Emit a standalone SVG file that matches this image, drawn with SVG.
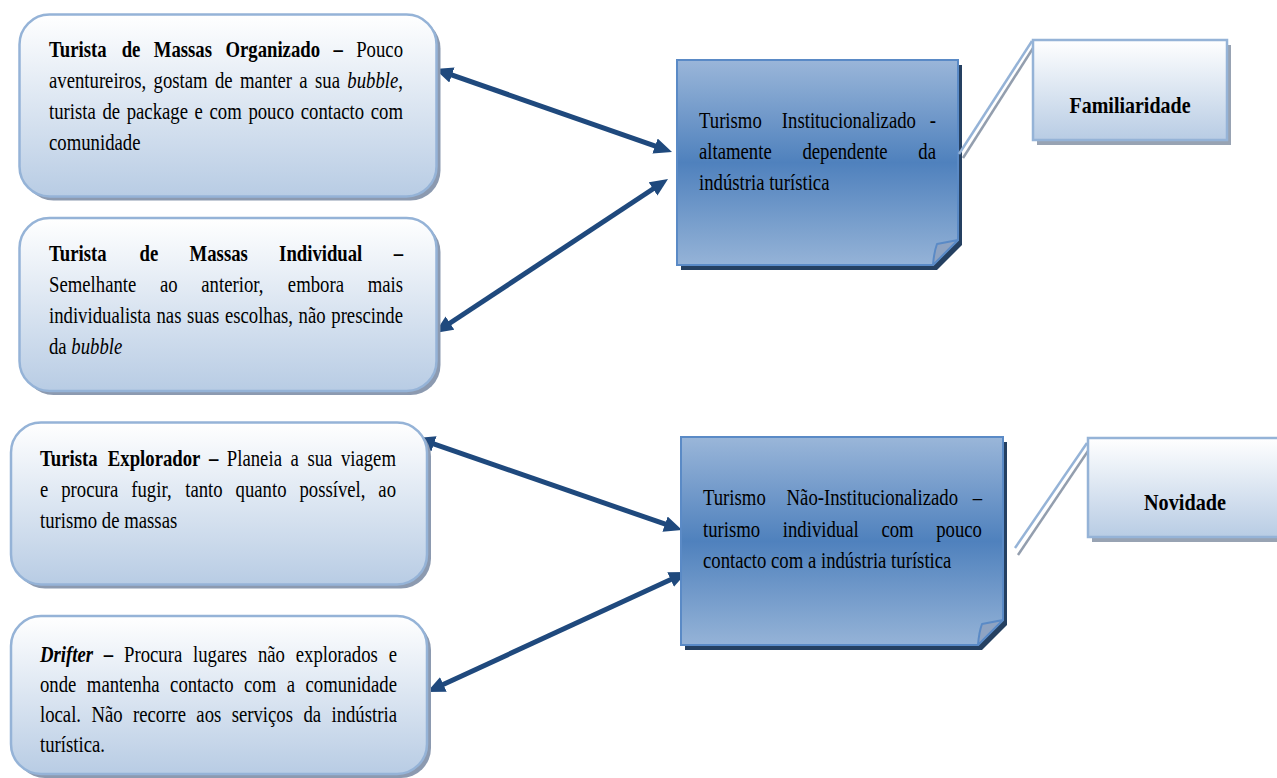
<svg xmlns="http://www.w3.org/2000/svg" width="1277" height="778" viewBox="0 0 1277 778">
<defs>
<linearGradient id="gLight" x1="0" y1="0" x2="0" y2="1">
<stop offset="0" stop-color="#ffffff"/>
<stop offset="1" stop-color="#b8cce4"/>
</linearGradient>
<linearGradient id="gBlue" x1="0" y1="0" x2="0" y2="1">
<stop offset="0" stop-color="#9ab6d9"/>
<stop offset="0.5" stop-color="#4f81bd"/>
<stop offset="1" stop-color="#95b3d7"/>
</linearGradient>
<marker id="ah" viewBox="0 0 18 16" refX="8" refY="8" markerWidth="18" markerHeight="16" markerUnits="userSpaceOnUse" orient="auto-start-reverse">
<path d="M0,0 L18,8 L0,16 Z" fill="#1f497d"/>
</marker>
</defs>
<style>
.rb{fill:url(#gLight);stroke:#95b3d7;stroke-width:2.5}
.rs{fill:#8c9ab0}
.bb{fill:url(#gBlue);stroke:#5a8ac6;stroke-width:2}
.bs{fill:#254061}
.fold{fill:#8ea3c2;stroke:#5a8ac6;stroke-width:2;stroke-linejoin:round}
.cs{fill:#98a3b3}
.cl{stroke:#95b3d7;stroke-width:2.5;fill:none}
.cls{stroke:#939eae;stroke-width:2.5;fill:none}
.t{font-family:"Liberation Serif","Times New Roman",serif;font-size:24px;fill:#000}
.b{font-weight:bold}
.i{font-style:italic}
.m{text-anchor:middle}
.ar{stroke:#1f497d;stroke-width:5;fill:none;marker-start:url(#ah);marker-end:url(#ah)}
</style>
<rect width="1277" height="778" fill="#ffffff"/>

<g id="connectors">
<line class="ar" x1="444.4" y1="72.3" x2="662.6" y2="148.7"/>
<line class="ar" x1="443.3" y1="327.5" x2="659.7" y2="184.5"/>
<line class="ar" x1="426.4" y1="441.3" x2="672.6" y2="526.7"/>
<line class="ar" x1="436.1" y1="687.8" x2="677.9" y2="576.2"/>
</g>

<g id="node-organizado">
<rect class="rs" x="23.5" y="18.5" width="417" height="182" rx="30"/>
<rect class="rb" x="19.5" y="14.5" width="417" height="182" rx="30"/>
<text class="t" transform="scale(0.78 1)" y="57"><tspan class="b" x="62.82">Turista</tspan> <tspan class="b" x="156">de</tspan> <tspan class="b" x="197.17">Massas</tspan> <tspan class="b" x="289">Organizado</tspan> <tspan class="b" x="427.51">–</tspan> <tspan x="456.68">Pouco</tspan></text>
<text class="t" transform="scale(0.78 1)" y="88"><tspan x="62.82">aventureiros,</tspan> <tspan x="196.88">gostam</tspan> <tspan x="275.65">de</tspan> <tspan x="307.74">manter</tspan> <tspan x="383.82">a</tspan> <tspan x="403.91">sua</tspan> <tspan class="i" x="445.33">bubble</tspan>,</text>
<text class="t" transform="scale(0.78 1)" y="119"><tspan x="62.82">turista</tspan> <tspan x="131.29">de</tspan> <tspan x="162.42">package</tspan> <tspan x="249.51">e</tspan> <tspan x="268.64">com</tspan> <tspan x="318.44">pouco</tspan> <tspan x="385.57">contacto</tspan> <tspan x="475.35">com</tspan></text>
<text class="t" transform="scale(0.78 1)" x="62.82" y="150">comunidade</text>
</g>

<g id="node-individual">
<rect class="rs" x="23.5" y="222" width="417" height="173" rx="30"/>
<rect class="rb" x="19.5" y="218" width="417" height="173" rx="30"/>
<text class="t b" transform="scale(0.78 1)" y="261"><tspan x="62.82">Turista</tspan> <tspan x="178.94">de</tspan> <tspan x="243.05">Massas</tspan> <tspan x="357.82">Individual</tspan> <tspan x="504.66">–</tspan></text>
<text class="t" transform="scale(0.78 1)" y="292"><tspan x="62.82">Semelhante</tspan> <tspan x="205.12">ao</tspan> <tspan x="258.1">anterior,</tspan> <tspan x="369.06">embora</tspan> <tspan x="471.36">mais</tspan></text>
<text class="t" transform="scale(0.78 1)" y="323"><tspan x="62.82">individualista</tspan> <tspan x="200.63">nas</tspan> <tspan x="239.82">suas</tspan> <tspan x="288.35">escolhas,</tspan> <tspan x="382.86">não</tspan> <tspan x="424.72">prescinde</tspan></text>
<text class="t" transform="scale(0.78 1)" x="62.82" y="354">da <tspan class="i">bubble</tspan></text>
</g>

<g id="node-explorador">
<rect class="rs" x="15" y="426.5" width="416" height="162" rx="30"/>
<rect class="rb" x="11" y="422.5" width="416" height="162" rx="30"/>
<text class="t" transform="scale(0.78 1)" y="466"><tspan class="b" x="51.28">Turista</tspan> <tspan class="b" x="138.25">Explorador</tspan> <tspan class="b" x="267.89">–</tspan> <tspan x="290.85">Planeia</tspan> <tspan x="372.47">a</tspan> <tspan x="394.09">sua</tspan> <tspan x="437.04">viagem</tspan></text>
<text class="t" transform="scale(0.78 1)" y="497"><tspan x="51.28">e</tspan> <tspan x="78.47">procura</tspan> <tspan x="168.3">fugir,</tspan> <tspan x="237.49">tanto</tspan> <tspan x="302.02">quanto</tspan> <tspan x="383.88">possível,</tspan> <tspan x="485.08">ao</tspan></text>
<text class="t" transform="scale(0.78 1)" x="51.28" y="528">turismo de massas</text>
</g>

<g id="node-drifter">
<rect class="rs" x="15" y="620" width="416" height="158" rx="30"/>
<rect class="rb" x="11" y="616" width="416" height="158" rx="30"/>
<text class="t" transform="scale(0.78 1)" y="662"><tspan class="b i" x="51.28">Drifter</tspan> <tspan class="b" x="133.12">–</tspan> <tspan x="158.97">Procura</tspan> <tspan x="247.46">lugares</tspan> <tspan x="330.62">não</tspan> <tspan x="379.13">explorados</tspan> <tspan x="498.29">e</tspan></text>
<text class="t" transform="scale(0.78 1)" y="692"><tspan x="51.28">onde</tspan> <tspan x="111.36">mantenha</tspan> <tspan x="218.09">contacto</tspan> <tspan x="312.82">com</tspan> <tspan x="367.57">a</tspan> <tspan x="391.65">comunidade</tspan></text>
<text class="t" transform="scale(0.78 1)" y="722"><tspan x="51.28">local.</tspan> <tspan x="117.24">Não</tspan> <tspan x="170.52">recorre</tspan> <tspan x="251.76">aos</tspan> <tspan x="297.05">serviços</tspan> <tspan x="389">da</tspan> <tspan x="424.96">indústria</tspan></text>
<text class="t" transform="scale(0.78 1)" x="51.28" y="752">turística.</text>
</g>

<g id="node-institucionalizado">
<path class="bs" d="M681,65 H962 V245 L937,270 H681 Z"/>
<path class="bb" d="M677,60 H958 V240 L933,265 H677 Z"/>
<path class="fold" d="M933,265 Q934,252 937,244 L958,240 Z"/>
<text class="t" transform="scale(0.78 1)" y="128"><tspan x="896.15">Turismo</tspan> <tspan x="1002.36">Institucionalizado</tspan> <tspan x="1192.01">-</tspan></text>
<text class="t" transform="scale(0.78 1)" y="159"><tspan x="896.15">altamente</tspan> <tspan x="1028.76">dependente</tspan> <tspan x="1177.36">da</tspan></text>
<text class="t" transform="scale(0.78 1)" x="896.15" y="190">indústria turística</text>
</g>

<g id="node-nao-institucionalizado">
<path class="bs" d="M685,442 H1007 V625 L982,650 H685 Z"/>
<path class="bb" d="M681,437 H1003 V620 L978,645 H681 Z"/>
<path class="fold" d="M978,645 Q979,632 982,624 L1003,620 Z"/>
<text class="t" transform="scale(0.78 1)" y="505"><tspan x="901.28">Turismo</tspan> <tspan x="1008.42">Não-Institucionalizado</tspan> <tspan x="1246.98">–</tspan></text>
<text class="t" transform="scale(0.78 1)" y="537"><tspan x="901.28">turismo</tspan> <tspan x="1003.61">individual</tspan> <tspan x="1129.99">com</tspan> <tspan x="1200.31">pouco</tspan></text>
<text class="t" transform="scale(0.78 1)" x="901.28" y="568">contacto com a indústria turística</text>
</g>

<g id="node-familiaridade">
<line class="cls" x1="1035" y1="45" x2="963" y2="158"/>
<line class="cl" x1="1032" y1="41" x2="959" y2="154"/>
<rect class="cs" x="1037" y="45" width="194" height="100"/>
<rect class="rb" x="1033" y="40" width="194" height="100"/>
<text class="t b m" transform="scale(0.78 1)" x="1448.72" y="113" textLength="155.13" lengthAdjust="spacingAndGlyphs">Familiaridade</text>
</g>

<g id="node-novidade">
<line class="cls" x1="1090" y1="448" x2="1018" y2="555"/>
<line class="cl" x1="1087" y1="443" x2="1015" y2="548"/>
<rect class="cs" x="1092" y="443" width="200" height="99"/>
<rect class="rb" x="1088" y="438" width="200" height="99"/>
<text class="t b m" transform="scale(0.78 1)" x="1519.23" y="510" textLength="105.13" lengthAdjust="spacingAndGlyphs">Novidade</text>
</g>
</svg>
